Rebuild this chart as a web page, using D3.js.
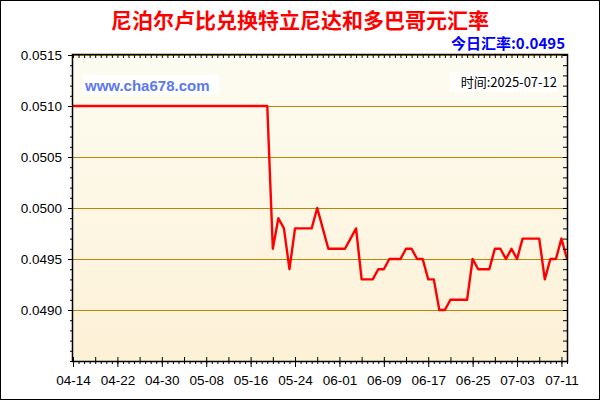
<!DOCTYPE html>
<html>
<head>
<meta charset="utf-8">
<script src="https://cdn.jsdelivr.net/npm/d3@7"></script>
<style>
  body { margin: 0; background: #fff; }
  svg { display: block; }
  text { font-family: "Liberation Sans", Arial, sans-serif; }
  .cjk { font-family: "Noto Sans CJK SC", "Liberation Sans", sans-serif; }
</style>
</head>
<body>
<div id="grafico"></div>
<script>
// data: one rate per day from 2025-04-14 to 2025-07-12
const startDate = "2025-04-14";
const rates = [
  0.0510, 0.0510, 0.0510, 0.0510, 0.0510, 0.0510, 0.0510, 0.0510, 0.0510, 0.0510,
  0.0510, 0.0510, 0.0510, 0.0510, 0.0510, 0.0510, 0.0510, 0.0510, 0.0510, 0.0510,
  0.0510, 0.0510, 0.0510, 0.0510, 0.0510, 0.0510, 0.0510, 0.0510, 0.0510, 0.0510,
  0.0510, 0.0510, 0.0510, 0.0510, 0.0510, 0.0510,
  0.0496, 0.0499, 0.0498, 0.0494, 0.0498, 0.0498, 0.0498, 0.0498, 0.0500, 0.0498,
  0.0496, 0.0496, 0.0496, 0.0496, 0.0497, 0.0498, 0.0493, 0.0493, 0.0493, 0.0494,
  0.0494, 0.0495, 0.0495, 0.0495, 0.0496, 0.0496, 0.0495, 0.0495, 0.0493, 0.0493,
  0.0490, 0.0490, 0.0491, 0.0491, 0.0491, 0.0491, 0.0495, 0.0494, 0.0494, 0.0494,
  0.0496, 0.0496, 0.0495, 0.0496, 0.0495, 0.0497, 0.0497, 0.0497, 0.0497, 0.0493,
  0.0495, 0.0495, 0.0497, 0.0495
];
const yTicks = [0.0490, 0.0495, 0.0500, 0.0505, 0.0510, 0.0515];
const yDomain = [0.0485, 0.0515];

const titleText = "尼泊尔卢比兑换特立尼达和多巴哥元汇率";
const todayLabel = "今日汇率:0.0495";
const timeLabel = "时间:2025-07-12";
const siteLabel = "www.cha678.com";

const margin = { top: 55, left: 73, bottom: 39, right: 33 };
const W = 600, H = 400;
const width = W - margin.left - margin.right;
const height = H - margin.top - margin.bottom;

const parse = d3.timeParse("%Y-%m-%d");
const t0 = parse(startDate);
const data = rates.map((v, i) => ({ date: d3.timeDay.offset(t0, i), value: v }));

const root = d3.select("#grafico")
  .append("svg")
  .attr("width", W)
  .attr("height", H);

// outer frame
root.append("rect")
  .attr("x", 0.5).attr("y", 0.5)
  .attr("width", W - 1).attr("height", H - 1)
  .attr("fill", "#fff").attr("stroke", "#000");

const grad = root.append("defs").append("linearGradient")
  .attr("id", "bg").attr("x1", 0).attr("y1", 0).attr("x2", 0).attr("y2", 1);
grad.append("stop").attr("offset", "0%").attr("stop-color", "#fdfcf2");
grad.append("stop").attr("offset", "100%").attr("stop-color", "#fdf1d6");

root.append("text")
  .attr("class", "cjk")
  .attr("x", W / 2).attr("y", 28)
  .attr("text-anchor", "middle")
  .attr("font-size", "21px").attr("font-weight", "bold")
  .attr("fill", "#ff0000")
  .text(titleText);

root.append("text")
  .attr("class", "cjk")
  .attr("x", 565).attr("y", 49)
  .attr("text-anchor", "end")
  .attr("font-size", "15px").attr("font-weight", "bold")
  .attr("fill", "#0000ff")
  .text(todayLabel);

const svg = root.append("g")
  .attr("transform", `translate(${margin.left}, ${margin.top})`);

const xScale = d3.scaleTime()
  .domain([t0, data[data.length - 1].date])
  .range([0, width]);

const yScale = d3.scaleLinear()
  .domain(yDomain)
  .range([height, 0]);

svg.append("rect")
  .attr("width", width).attr("height", height)
  .attr("fill", "url(#bg)");

// grid
svg.selectAll(".grid")
  .data(yTicks)
  .join("line")
  .attr("class", "grid")
  .attr("x1", 0).attr("x2", width)
  .attr("y1", d => Math.round(yScale(d)) + 0.5)
  .attr("y2", d => Math.round(yScale(d)) + 0.5)
  .attr("stroke", "#b8860b");

// labels inside plot
const site = svg.append("g");
site.append("rect")
  .attr("x", 10).attr("y", 20).attr("width", 136).attr("height", 20)
  .attr("fill", "#fff");
site.append("text")
  .attr("x", 12).attr("y", 36)
  .attr("font-size", "15px").attr("font-weight", "bold")
  .attr("fill", "#5b78ee")
  .text(siteLabel);

const tm = svg.append("g");
tm.append("rect")
  .attr("x", width - 117).attr("y", 17).attr("width", 108).attr("height", 20)
  .attr("fill", "#fff");
tm.append("text")
  .attr("class", "cjk")
  .attr("x", width - 10).attr("y", 32)
  .attr("text-anchor", "end")
  .attr("font-size", "13px")
  .attr("fill", "#000")
  .text(timeLabel);

// line
const line = d3.line()
  .x(d => xScale(d.date))
  .y(d => yScale(d.value));

svg.append("path")
  .datum(data)
  .attr("d", line)
  .attr("fill", "none")
  .attr("stroke", "#ff0000")
  .attr("stroke-width", 2.4)
  .attr("stroke-linejoin", "round");

// axes
const allDays = d3.timeDay.range(t0, d3.timeDay.offset(data[data.length - 1].date, 1));
const majorDays = allDays.filter((d, i) => i % 4 === 0);
const labelDays = allDays.filter((d, i) => i % 8 === 0);
const fmt = d3.timeFormat("%m-%d");

function styleAxis(g) {
  g.select(".domain").remove();
  g.selectAll("line").attr("stroke", "#000");
  g.selectAll("text")
    .attr("font-family", "Liberation Sans, Arial, sans-serif")
    .attr("font-size", "13.5px").attr("fill", "#000");
}

const yMinor = d3.range(0, 31).map(i => yDomain[0] + i * 0.0001);

// left axis
svg.append("g")
  .call(d3.axisLeft(yScale).tickValues(yMinor).tickSize(3).tickFormat(""))
  .call(styleAxis);
svg.append("g")
  .call(d3.axisLeft(yScale).tickValues(yTicks).tickSize(5).tickPadding(6).tickFormat(d3.format(".4f")))
  .call(styleAxis);

// right axis (inner ticks)
svg.append("g")
  .attr("transform", `translate(${width}, 0)`)
  .call(d3.axisLeft(yScale).tickValues(yMinor).tickSize(4).tickFormat(""))
  .call(styleAxis);

// bottom axis
svg.append("g")
  .attr("transform", `translate(0, ${height})`)
  .call(d3.axisBottom(xScale).tickValues(allDays).tickSize(3).tickFormat(""))
  .call(styleAxis);
svg.append("g")
  .attr("transform", `translate(0, ${height})`)
  .call(d3.axisBottom(xScale).tickValues(majorDays).tickSize(-4).tickFormat(""))
  .call(styleAxis);
svg.append("g")
  .attr("transform", `translate(0, ${height})`)
  .call(d3.axisBottom(xScale).tickValues(labelDays).tickSize(6).tickPadding(8).tickFormat(fmt))
  .call(styleAxis);

// top axis (inner ticks)
svg.append("g")
  .call(d3.axisTop(xScale).tickValues(allDays).tickSize(-3).tickFormat(""))
  .call(styleAxis);

// frame
svg.append("rect")
  .attr("x", -0.5).attr("y", -0.5)
  .attr("width", width + 1).attr("height", height + 1)
  .attr("fill", "none").attr("stroke", "#000").attr("stroke-width", 1.5);
</script>
</body>
</html>
